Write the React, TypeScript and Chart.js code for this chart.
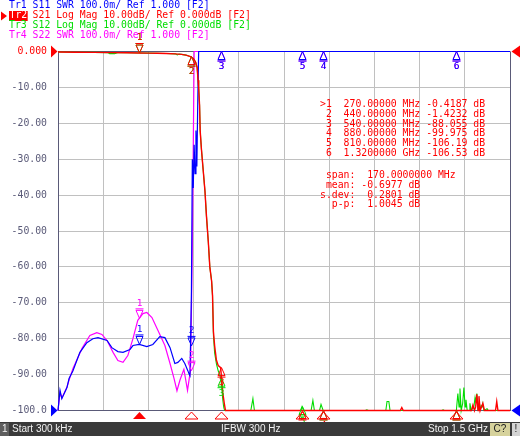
import React, { useEffect, useRef } from "react";
import { Chart, registerables } from "chart.js";

Chart.register(...registerables);

// ---------------- data ----------------
const startMHz = 0.3;
const stopMHz = 1500;
const dbTickValues = [0, -10, -20, -30, -40, -50, -60, -70, -80, -90, -100];
const dbTickLabels = ["0.000", "-10.00", "-20.00", "-30.00", "-40.00", "-50.00", "-60.00", "-70.00", "-80.00", "-90.00", "-100.0"];

// Tr1 S11 (SWR)
const s11Freq = [0.3, 7, 13, 30, 37, 50, 73, 96, 116, 133, 163, 179, 199, 216, 239, 249, 270, 295, 315, 338, 355, 372, 388, 398, 411, 421, 431, 436, 438, 440, 443, 446, 449, 452, 455, 458, 461, 464, 467, 600, 800, 1000, 1200, 1500];
const s11Swr = [1.0, 1.056, 1.033, 1.064, 1.089, 1.111, 1.162, 1.189, 1.2, 1.203, 1.195, 1.175, 1.164, 1.162, 1.17, 1.181, 1.184, 1.178, 1.184, 1.206, 1.203, 1.175, 1.131, 1.134, 1.145, 1.131, 1.111, 1.1, 1.097, 1.18, 1.33, 1.7, 1.62, 1.74, 1.66, 1.78, 1.68, 1.86, 2.0, 2.0, 2.0, 2.0, 2.0, 2.0];

// Tr2 S21 (dB)
const s21Freq = [0.3, 60, 120, 180, 230, 270, 300, 330, 360, 390, 410, 425, 440, 450, 457, 462, 465, 467, 470, 472, 476, 482, 488, 493, 499, 504, 510, 513, 516, 520, 526, 532, 540, 543, 547, 552, 556, 560, 600, 647, 700, 760, 810, 850, 873, 880, 885, 950, 1025, 1095, 1136, 1141, 1146, 1200, 1278, 1320, 1360, 1372, 1377, 1382, 1386, 1390, 1394, 1397, 1401, 1410, 1415, 1440, 1452, 1456, 1460, 1500];
const s21Db = [-0.15, -0.2, -0.25, -0.3, -0.35, -0.4187, -0.45, -0.5, -0.55, -0.65, -0.8, -1.0, -1.4232, -2.0, -3.0, -4.5, -8.0, -10, -15, -22, -27, -33, -39, -46, -53, -60, -64, -68, -78, -82, -86, -87.5, -88.055, -91, -95, -98, -103, -108, -107, -106, -108, -107, -106.19, -105, -101, -99.975, -104, -108, -107, -106, -104, -99.2, -105, -107, -106, -106.53, -104, -101, -98.5, -103, -99, -95.5, -100, -96, -101, -98, -103, -105, -102, -97.5, -104, -105];

// Tr3 S12 (dB)
const s12Freq = [0.3, 60, 120, 165, 172, 188, 198, 230, 270, 300, 330, 360, 390, 396, 402, 410, 425, 440, 450, 457, 462, 465, 467, 470, 472, 476, 482, 488, 493, 499, 504, 510, 513, 516, 520, 526, 532, 537, 540, 543, 547, 550, 553, 560, 600, 640, 647, 652, 700, 760, 805, 810, 815, 840, 846, 851, 868, 873, 880, 890, 950, 1020, 1025, 1030, 1088, 1092, 1098, 1102, 1200, 1274, 1278, 1282, 1320, 1322, 1327, 1331, 1334, 1338, 1343, 1347, 1351, 1354, 1358, 1364, 1367, 1371, 1380, 1384, 1387, 1390, 1394, 1400, 1404, 1408, 1410, 1414, 1424, 1428, 1500];
const s12Db = [-0.15, -0.2, -0.25, -0.3, -0.6, -0.6, -0.32, -0.35, -0.42, -0.45, -0.5, -0.55, -0.65, -0.95, -0.7, -0.8, -1.0, -1.43, -2.0, -3.0, -4.5, -8.0, -10, -15, -22, -27, -33, -39, -46, -53, -60, -64, -68, -79, -84, -87, -89, -90, -91, -93, -97, -99, -104, -110, -108, -104, -96.7, -105, -108, -107, -103, -98.9, -105, -104, -97.2, -104, -103, -98.3, -100.5, -106, -108, -104, -99.8, -106, -104, -97.5, -97.5, -104, -108, -104, -99.8, -106, -106, -104, -95.3, -99, -93.9, -100, -98, -93.6, -99, -97, -103, -101, -98, -103, -99, -96.4, -98, -95.3, -102, -100, -98.6, -99, -98.5, -103, -99.5, -105, -106];

// Tr4 S22 (SWR)
const s22Freq = [0.3, 7, 13, 30, 37, 50, 80, 106, 129, 146, 163, 183, 199, 216, 232, 249, 265, 282, 295, 312, 332, 355, 372, 385, 395, 405, 418, 430, 436, 440, 443, 446, 449, 452, 600, 800, 1000, 1200, 1500];
const s22Swr = [1.0, 1.05, 1.035, 1.065, 1.085, 1.117, 1.173, 1.209, 1.217, 1.212, 1.195, 1.162, 1.139, 1.134, 1.153, 1.2, 1.251, 1.27, 1.273, 1.259, 1.223, 1.181, 1.131, 1.09, 1.055, 1.085, 1.115, 1.056, 1.09, 1.111, 1.28, 1.45, 1.72, 2.0, 2.0, 2.0, 2.0, 2.0, 2.0];

// markers
const markerFreq = [270, 440, 540, 880, 810, 1320];
const markerS21Db = [-0.4187, -1.4232, -88.055, -99.975, -106.19, -106.53];

// statistics
const statsLabels = ["span:", "mean:", "s.dev:", "p-p:"];
const statsValues = ["170.0000000 MHz", "-0.6977 dB", "0.2801 dB", "1.0045 dB"];

// header
const headerLines = [
  "Tr1 S11 SWR 100.0m/ Ref 1.000 [F2]",
  "Tr2 S21 Log Mag 10.00dB/ Ref 0.000dB [F2]",
  "Tr3 S12 Log Mag 10.00dB/ Ref 0.000dB [F2]",
  "Tr4 S22 SWR 100.0m/ Ref 1.000 [F2]",
];
const statusTexts = ["Start 300 kHz", "IFBW 300 Hz", "Stop 1.5 GHz"];

// ---------------- styles ----------------
const RED = "#ff0000";
const BLUE = "#0000ff";
const GREEN = "#00dd00";
const MAGENTA = "#ff00ff";
const AXIS = "#5a5a78";
const GRID = "#c0c0c0";
const MONO = "'DejaVu Sans Mono', monospace";
const MONO_SIZE = 9.8;

const DB_MIN = -100, DB_MAX = 0, SWR_MIN = 1, SWR_MAX = 2;
const clamp = (v: number, lo: number, hi: number) => Math.max(lo, Math.min(hi, v));
const pts = (fs: number[], vs: number[], lo: number, hi: number) => fs.map((f, i) => ({ x: f, y: clamp(vs[i], lo, hi) }));

function interp(xs: number[], ys: number[], x: number) {
  for (let i = 0; i < xs.length - 1; i++) {
    if (x >= xs[i] && x <= xs[i + 1]) {
      const t = (x - xs[i]) / (xs[i + 1] - xs[i]);
      return ys[i] + t * (ys[i + 1] - ys[i]);
    }
  }
  return ys[ys.length - 1];
}

function fmtFreq(f: number) {
  return f >= 1000 ? (f / 1000).toFixed(7) + " GHz" : f.toFixed(5) + " MHz";
}
function fmtDb(v: number) {
  let s = v.toFixed(4);
  if (s.length > 7) s = v.toFixed(3);
  if (s.length > 7) s = v.toFixed(2);
  return s;
}

function drawMarker(ctx: CanvasRenderingContext2D, x: number, y: number, label: string, color: string, up: boolean, showLabel: boolean) {
  const s = up ? 1 : -1;
  ctx.strokeStyle = color;
  ctx.fillStyle = color;
  ctx.lineWidth = 1;
  ctx.beginPath();
  ctx.moveTo(x, y);
  ctx.lineTo(x - 3.5, y + s * 8);
  ctx.lineTo(x + 3.5, y + s * 8);
  ctx.closePath();
  ctx.stroke();
  ctx.beginPath();
  ctx.moveTo(x - 4, y + s * 9.5);
  ctx.lineTo(x + 4, y + s * 9.5);
  ctx.stroke();
  if (showLabel) {
    ctx.font = `9.5px ${MONO}`;
    ctx.textAlign = "center";
    ctx.textBaseline = up ? "top" : "bottom";
    ctx.fillText(label, x, y + s * 10.5);
  }
}

function fillTri(ctx: CanvasRenderingContext2D, p: number[][], color: string) {
  ctx.fillStyle = color;
  ctx.beginPath();
  ctx.moveTo(p[0][0], p[0][1]);
  ctx.lineTo(p[1][0], p[1][1]);
  ctx.lineTo(p[2][0], p[2][1]);
  ctx.closePath();
  ctx.fill();
}

const px5 = (v: number) => Math.floor(v) + 0.5;

const vnaPlugin = {
  id: "vna",
  beforeDatasetsDraw(chart: any) {
    const { ctx, chartArea: a } = chart;
    ctx.save();
    ctx.strokeStyle = AXIS;
    ctx.lineWidth = 1;
    ctx.beginPath();
    ctx.moveTo(px5(a.left), a.top);
    ctx.lineTo(px5(a.left), a.bottom + 0.5);
    ctx.moveTo(px5(a.right), a.top);
    ctx.lineTo(px5(a.right), a.bottom + 0.5);
    ctx.moveTo(a.left, px5(a.top));
    ctx.lineTo(a.right, px5(a.top));
    ctx.moveTo(a.left, px5(a.bottom));
    ctx.lineTo(a.right, px5(a.bottom));
    ctx.stroke();
    ctx.restore();
  },
  afterDraw(chart: any) {
    const { ctx, chartArea: a, scales } = chart;
    const W = chart.width, H = chart.height;
    const xs = scales.x, yd = scales.y, ys = scales.swr;
    ctx.save();

    // reference level arrows
    const yTop = yd.getPixelForValue(DB_MAX);
    const yBot = ys.getPixelForValue(SWR_MIN);
    fillTri(ctx, [[a.left - 7, yTop - 6], [a.left - 7, yTop + 6], [a.left - 0.5, yTop]], RED);
    fillTri(ctx, [[a.left - 7, yBot - 6], [a.left - 7, yBot + 6], [a.left - 0.5, yBot]], BLUE);
    fillTri(ctx, [[W, yTop - 6], [W, yTop + 6], [a.right + 1.5, yTop]], RED);
    fillTri(ctx, [[W, yBot - 6], [W, yBot + 6], [a.right + 1.5, yBot]], BLUE);

    // markers on traces (drawn back to front)
    const traces = [
      { f: s22Freq, v: s22Swr, sc: ys, lo: SWR_MIN, hi: SWR_MAX, color: MAGENTA, upStyle: false, exact: null },
      { f: s12Freq, v: s12Db, sc: yd, lo: DB_MIN, hi: DB_MAX, color: GREEN, upStyle: true, exact: null },
      { f: s11Freq, v: s11Swr, sc: ys, lo: SWR_MIN, hi: SWR_MAX, color: BLUE, upStyle: false, exact: null },
      { f: s21Freq, v: s21Db, sc: yd, lo: DB_MIN, hi: DB_MAX, color: RED, upStyle: true, exact: markerS21Db },
    ];
    for (const tr of traces) {
      markerFreq.forEach((f, i) => {
        const val = tr.exact ? tr.exact[i] : interp(tr.f, tr.v, f);
        const px = Math.round(xs.getPixelForValue(f)) + 0.5;
        if (val >= tr.hi) {
          drawMarker(ctx, px, tr.sc.getPixelForValue(tr.hi), String(i + 1), tr.color, true, true);
        } else if (val <= tr.lo) {
          drawMarker(ctx, px, tr.sc.getPixelForValue(tr.lo), String(i + 1), tr.color, true, false);
        } else {
          const up = tr.upStyle && i !== 0;
          drawMarker(ctx, px, tr.sc.getPixelForValue(val), String(i + 1), tr.color, up, true);
        }
      });
    }

    // active-trace marker indicators under the grid
    markerFreq.forEach((f, i) => {
      const px = Math.round(xs.getPixelForValue(f)) + 0.5;
      const y0 = a.bottom + 1.5;
      ctx.beginPath();
      ctx.moveTo(px, y0);
      ctx.lineTo(px - 6.5, y0 + 7);
      ctx.lineTo(px + 6.5, y0 + 7);
      ctx.closePath();
      ctx.strokeStyle = RED;
      ctx.fillStyle = RED;
      ctx.lineWidth = 1;
      if (i === 0) ctx.fill();
      else ctx.stroke();
    });

    // marker table
    const tx = a.left + 262;
    ctx.font = `${MONO_SIZE}px ${MONO}`;
    ctx.textAlign = "left";
    ctx.textBaseline = "middle";
    ctx.fillStyle = RED;
    markerFreq.forEach((f, i) => {
      const line = (i === 0 ? ">" : " ") + (i + 1) + "  " + fmtFreq(f) + " " + fmtDb(markerS21Db[i]) + " dB";
      ctx.fillText(line, tx, 104.5 + i * 9.8);
    });
    statsLabels.forEach((lab, i) => {
      const v = statsValues[i];
      const line = lab.padStart(6, " ") + " " + (v.startsWith("-") ? v : " " + v);
      ctx.fillText(line, tx, 175.5 + i * 9.8);
    });

    // header
    const hy = [5.8, 15.6, 25.4, 35.2];
    const hc = [BLUE, RED, GREEN, MAGENTA];
    ctx.font = `${MONO_SIZE}px ${MONO}`;
    ctx.textBaseline = "middle";
    headerLines.forEach((line, i) => {
      if (i === 1) {
        const cw = ctx.measureText("Tr2").width;
        ctx.fillStyle = RED;
        ctx.fillRect(9, 11, cw + 1, 10);
        fillTri(ctx, [[1, 11.5], [1, 20.5], [7, 16]], RED);
        ctx.fillStyle = "#ffffff";
        ctx.fillText("Tr2", 9.5, hy[i]);
        ctx.fillStyle = RED;
        ctx.fillText(line.slice(3), 9 + cw, hy[i]);
      } else {
        ctx.fillStyle = hc[i];
        ctx.fillText(line, 9, hy[i]);
      }
    });

    // status bar
    const by = 422;
    ctx.fillStyle = "#3a3a3a";
    ctx.fillRect(0, by, W, H - by);
    ctx.fillStyle = "#5e5e5e";
    ctx.fillRect(0, by + 1, 9, H - by - 1);
    ctx.fillStyle = "#d6d29c";
    ctx.fillRect(490, by + 1, 20, H - by - 1);
    ctx.fillStyle = "#d4d4d4";
    ctx.fillRect(512, by + 1, 8, H - by - 1);
    ctx.font = "10px 'Liberation Sans', Arial, sans-serif";
    ctx.textBaseline = "middle";
    ctx.textAlign = "left";
    ctx.fillStyle = "#f2f2f2";
    ctx.fillText("1", 2, by + 7.5);
    ctx.fillText(statusTexts[0], 12, by + 7.5);
    ctx.fillText(statusTexts[1], 221, by + 7.5);
    ctx.fillText(statusTexts[2], 428, by + 7.5);
    ctx.fillStyle = "#202020";
    ctx.textAlign = "center";
    ctx.fillText("C?", 500, by + 7.5);
    ctx.fillText("!", 516, by + 7.5);
    ctx.restore();
  },
};

export default function App() {
  const ref = useRef<HTMLCanvasElement>(null);
  useEffect(() => {
    const tenth = (stopMHz - startMHz) / 10;
    const line = (label: string, data: any[], axis: string, color: string, width: number) => ({
      label, data, yAxisID: axis, borderColor: color, borderWidth: width,
      pointRadius: 0, tension: 0, clip: false as any,
    });
    const chart = new Chart(ref.current as HTMLCanvasElement, {
      type: "line",
      data: {
        datasets: [
          line("S21", pts(s21Freq, s21Db, DB_MIN, DB_MAX), "y", RED, 1.4),
          line("S11", pts(s11Freq, s11Swr, SWR_MIN, SWR_MAX), "swr", BLUE, 1.2),
          line("S22", pts(s22Freq, s22Swr, SWR_MIN, SWR_MAX), "swr", MAGENTA, 1.2),
          line("S12", pts(s12Freq, s12Db, DB_MIN, DB_MAX), "y", GREEN, 1.1),
        ],
      },
      options: {
        responsive: false,
        maintainAspectRatio: false,
        animation: false,
        devicePixelRatio: 1,
        parsing: false as any,
        normalized: true,
        layout: { padding: { top: 51.5, right: 10, left: 0, bottom: 0 } },
        plugins: { legend: { display: false }, tooltip: { enabled: false } },
        events: [],
        scales: {
          x: {
            type: "linear",
            min: startMHz,
            max: stopMHz,
            ticks: { display: false },
            grid: { color: GRID, drawTicks: false, lineWidth: 1 },
            border: { display: false },
            afterBuildTicks: (s: any) => {
              s.ticks = Array.from({ length: 11 }, (_, i) => ({ value: startMHz + i * tenth }));
            },
            afterFit: (s: any) => { s.height = 25.5; },
          },
          y: {
            type: "linear",
            position: "left",
            min: DB_MIN,
            max: DB_MAX,
            afterBuildTicks: (s: any) => {
              s.ticks = dbTickValues.slice().reverse().map((v) => ({ value: v }));
            },
            ticks: {
              callback: (v: any) => dbTickLabels[dbTickValues.indexOf(Number(v))],
              color: (c: any) => (c.tick && c.tick.value === 0 ? RED : AXIS),
              font: { family: MONO, size: MONO_SIZE },
              padding: 11,
            },
            grid: { color: GRID, drawTicks: false, lineWidth: 1 },
            border: { display: false },
            afterFit: (s: any) => { s.width = 58; },
          },
          swr: {
            type: "linear",
            position: "right",
            display: false,
            min: SWR_MIN,
            max: SWR_MAX,
          },
        },
      } as any,
      plugins: [vnaPlugin],
    });
    return () => chart.destroy();
  }, []);
  return (
    <div style={{ position: "fixed", left: 0, top: 0, width: 520, height: 436, background: "#ffffff" }}>
      <canvas ref={ref} width={520} height={436} style={{ display: "block", width: 520, height: 436 }} />
    </div>
  );
}
